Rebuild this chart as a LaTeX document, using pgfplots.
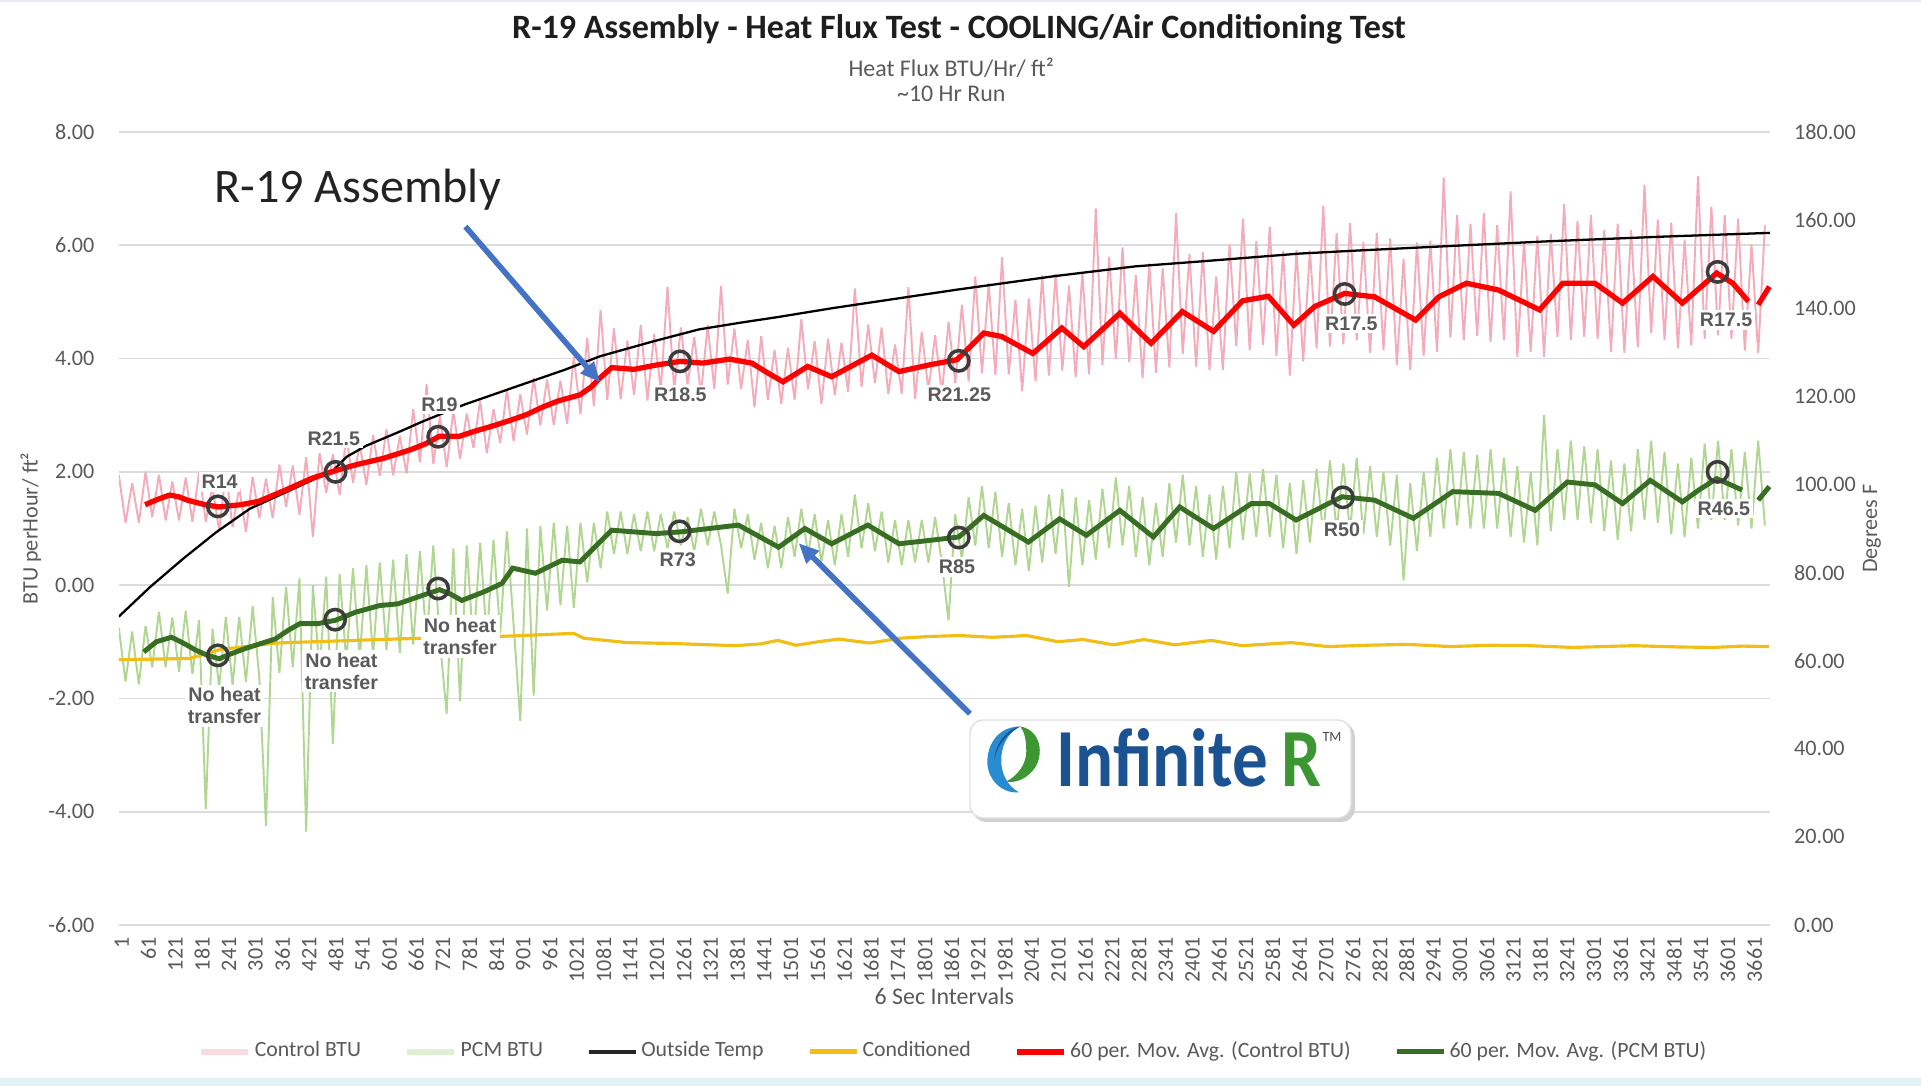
\documentclass[border=0pt]{standalone}
\usepackage{pgfplots}
\pgfplotsset{compat=1.18}
\usepackage{pgfplotstable}
\usepackage{fontspec}
\setmainfont{Carlito}
\newfontfamily\arialf{Liberation Sans}
\usetikzlibrary{arrows.meta,shadows}

\definecolor{gridc}{RGB}{220,220,220}
\definecolor{tickc}{RGB}{89,89,89}
\definecolor{pinkc}{RGB}{244,172,186}
\definecolor{lgreen}{RGB}{176,214,146}
\definecolor{mared}{RGB}{255,0,0}
\definecolor{magreen}{RGB}{56,110,35}
\definecolor{condc}{RGB}{240,190,20}
\definecolor{arrowc}{RGB}{68,114,196}
\definecolor{circc}{RGB}{60,60,60}
\definecolor{lblc}{RGB}{90,90,90}
\definecolor{logoblue}{RGB}{27,82,145}
\definecolor{logolight}{RGB}{40,140,210}
\definecolor{logogreen}{RGB}{60,150,50}
\definecolor{bottombar}{RGB}{225,241,244}
\definecolor{topbar}{RGB}{236,232,244}
\definecolor{titlec}{RGB}{30,30,30}
\definecolor{bigtxt}{RGB}{35,35,35}

% raw 6-second readings (sampled), Control BTU (c) and PCM BTU (p)
\pgfplotstableread{
i c p
1 1.95 -0.75
16 1.10 -1.70
31 1.80 -0.82
46 1.10 -1.75
61 2.00 -0.72
76 1.20 -1.45
91 1.95 -0.47
106 1.14 -1.45
121 1.83 -0.57
136 1.14 -1.53
151 1.90 -0.45
166 1.12 -1.57
181 1.99 -0.62
196 1.12 -3.95
211 1.74 -0.77
226 0.96 -1.80
241 1.99 -0.56
256 1.03 -1.76
271 1.72 -0.56
286 0.94 -1.71
301 1.91 -0.37
316 1.18 -1.63
331 1.88 -4.25
346 1.18 -0.21
361 2.13 -1.55
376 1.38 -0.03
391 2.11 -1.45
406 1.24 0.12
421 2.26 -4.35
436 0.85 0.00
451 2.33 -1.50
466 1.63 0.15
481 2.31 -2.80
496 1.59 0.20
511 2.63 -1.35
526 1.81 0.30
541 2.49 -1.30
556 1.77 0.35
571 2.65 -1.25
586 1.93 0.40
601 2.75 -1.15
616 1.94 0.45
631 2.63 -1.20
646 1.97 0.55
661 3.11 -1.05
676 2.17 0.60
691 3.55 -1.00
706 2.14 0.70
721 2.98 -1.00
736 2.08 -2.27
751 3.08 0.65
766 2.23 -2.05
781 3.03 0.70
796 2.42 -1.10
811 3.26 0.75
826 2.33 -0.95
841 3.11 0.80
856 2.51 -0.85
871 3.45 0.95
886 2.54 -0.70
901 3.37 -2.40
916 2.66 1.00
931 3.66 -1.95
946 2.82 1.05
961 3.63 -0.45
976 2.83 1.10
991 3.61 -0.35
1006 2.85 1.05
1021 4.03 -0.40
1036 3.02 1.10
1051 4.36 0.05
1066 3.16 1.10
1081 4.86 0.30
1096 3.27 1.30
1111 4.54 0.55
1126 3.28 1.30
1141 4.32 0.55
1156 3.36 1.25
1171 4.59 0.60
1186 3.26 1.30
1201 4.43 0.60
1216 3.45 1.25
1231 5.27 0.65
1246 3.44 1.30
1261 4.55 0.70
1276 3.54 1.20
1291 4.38 0.60
1306 3.37 1.35
1321 4.59 0.70
1336 3.46 1.30
1351 5.28 0.70
1366 3.54 -0.15
1381 4.53 1.35
1396 3.46 0.65
1411 4.33 1.25
1426 3.14 0.45
1441 4.40 1.10
1456 3.27 0.30
1471 4.15 1.05
1486 3.20 0.30
1501 4.19 1.20
1516 3.27 0.50
1531 4.70 1.35
1546 3.46 0.55
1561 4.31 1.25
1576 3.20 0.40
1591 4.35 1.15
1606 3.35 0.35
1621 4.28 1.25
1636 3.41 0.50
1651 5.24 1.60
1666 3.50 0.65
1681 4.60 1.45
1696 3.57 0.60
1711 4.55 1.30
1726 3.37 0.40
1741 4.25 1.15
1756 3.38 0.35
1771 5.26 1.15
1786 3.29 0.40
1801 4.47 1.15
1816 3.44 0.40
1831 4.41 1.20
1846 3.38 0.40
1861 4.65 -0.62
1876 3.57 1.25
1891 4.95 0.45
1906 3.60 1.55
1921 5.45 0.70
1936 3.74 1.75
1951 5.33 0.65
1966 3.71 1.65
1981 5.79 0.50
1996 3.72 1.45
2011 5.04 0.35
2026 3.42 1.35
2041 5.06 0.25
2056 3.60 1.40
2071 5.47 0.40
2086 3.70 1.60
2101 5.50 0.55
2116 3.79 1.70
2131 5.29 -0.03
2146 3.67 1.55
2161 5.52 0.35
2176 3.72 1.50
2191 6.65 0.45
2206 3.88 1.70
2221 5.80 0.65
2236 3.99 1.90
2251 5.96 0.70
2266 3.94 1.75
2281 5.47 0.50
2296 3.65 1.55
2311 5.68 0.35
2326 3.75 1.45
2341 5.60 0.50
2356 3.84 1.80
2371 6.57 0.75
2386 4.08 1.95
2401 5.85 0.70
2416 3.86 1.75
2431 5.88 0.50
2446 3.80 1.60
2461 5.45 0.45
2476 3.80 1.75
2491 6.02 0.65
2506 4.22 2.00
2521 6.47 0.80
2536 4.15 1.97
2551 6.07 0.85
2566 4.24 2.05
2581 6.33 0.85
2596 4.05 1.95
2611 5.90 0.65
2626 3.70 1.80
2641 5.92 0.55
2656 3.95 1.85
2671 5.91 0.75
2686 4.18 2.05
2701 6.70 0.90
2716 4.21 2.20
2731 6.22 0.95
2746 4.25 2.15
2761 6.39 0.95
2776 4.32 2.25
2791 6.06 0.90
2806 4.10 2.10
2821 6.22 0.85
2836 4.15 2.00
2851 6.12 0.70
2866 3.89 1.95
2881 5.76 0.08
2896 3.80 1.80
2911 6.05 0.60
2926 4.05 2.00
2941 6.08 0.85
2956 4.12 2.25
2971 7.20 1.00
2986 4.37 2.40
3001 6.53 1.05
3016 4.32 2.35
3031 6.38 1.00
3046 4.40 2.30
3061 6.57 1.00
3076 4.29 2.40
3091 6.36 1.00
3106 4.32 2.25
3121 6.95 0.85
3136 4.03 2.10
3151 6.07 0.75
3166 4.12 2.00
3181 6.17 0.70
3196 4.03 3.00
3211 6.20 0.95
3226 4.38 2.40
3241 6.73 1.15
3256 4.33 2.55
3271 6.43 1.15
3286 4.38 2.45
3301 6.53 1.10
3316 4.35 2.40
3331 6.27 0.95
3346 4.12 2.20
3361 6.38 0.80
3376 4.10 2.15
3391 6.27 0.95
3406 4.20 2.40
3421 7.07 1.15
3436 4.45 2.55
3451 6.45 1.10
3466 4.33 2.35
3481 6.40 0.90
3496 4.18 2.15
3511 6.10 0.85
3526 4.23 2.25
3541 7.22 1.00
3556 4.35 2.50
3571 6.68 1.15
3586 4.41 2.55
3601 6.53 1.15
3616 4.35 2.40
3631 6.47 1.05
3646 4.14 2.35
3661 6.01 1.00
3676 4.10 2.55
3691 6.35 1.05
}\noise

\pgfplotstableread{
i t
1 70.0
71 76.7
146 83.2
220 89.2
295 94.5
390 98.9
482 103.2
512 106.3
556 108.8
631 112.0
680 114.2
775 118.1
900 122.5
1000 126.0
1080 129.1
1200 132.5
1302 135.2
1400 136.8
1479 138.0
1600 140.0
1879 144.2
2100 147.3
2280 149.5
2424 150.6
2648 152.4
2760 153.0
3042 154.4
3208 155.2
3450 156.2
3702 157.1
}\outside

\pgfplotstableread{
i t
1 60.2
160 60.5
227 62.5
353 64.0
500 64.5
650 65.0
884 65.6
1021 66.2
1043 65.1
1140 64.1
1242 63.9
1382 63.4
1440 63.8
1478 64.6
1519 63.5
1570 64.3
1615 64.9
1684 64.0
1753 65.1
1820 65.5
1886 65.7
1960 65.3
2036 65.7
2106 64.3
2162 64.8
2231 63.6
2299 64.8
2368 63.6
2450 64.6
2519 63.4
2629 64.1
2711 63.2
2800 63.5
2890 63.7
2986 63.2
3080 63.5
3164 63.4
3260 63.0
3397 63.4
3500 63.1
3576 63.0
3640 63.3
3700 63.2
}\cond

\pgfplotstableread{
i v
60 1.42
90 1.52
115 1.59
135 1.56
155 1.50
194 1.42
225 1.38
275 1.42
315 1.48
375 1.68
435 1.89
490 2.03
535 2.13
595 2.24
655 2.39
690 2.50
720 2.63
765 2.63
800 2.72
835 2.80
875 2.90
915 3.01
950 3.14
985 3.25
1035 3.36
1060 3.50
1080 3.66
1106 3.84
1156 3.81
1209 3.89
1260 3.95
1310 3.92
1370 3.99
1420 3.92
1455 3.75
1490 3.59
1545 3.86
1599 3.68
1689 4.06
1750 3.77
1819 3.89
1880 3.98
1940 4.45
1980 4.39
2050 4.09
2115 4.54
2164 4.21
2245 4.80
2315 4.27
2385 4.83
2455 4.48
2520 5.02
2578 5.10
2635 4.59
2682 4.92
2749 5.15
2816 5.09
2908 4.68
2960 5.09
3022 5.33
3094 5.21
3186 4.86
3238 5.33
3310 5.33
3372 4.98
3440 5.45
3506 4.98
3583 5.51
3619 5.33
3654 5.01
3665 nan
3676 4.95
3701 5.27
}\mactrl

\pgfplotstableread{
i v
57 -1.18
85 -1.00
119 -0.92
145 -1.02
174 -1.15
200 -1.24
226 -1.30
250 -1.22
284 -1.12
352 -0.95
380 -0.80
407 -0.68
447 -0.68
487 -0.62
531 -0.48
586 -0.36
627 -0.33
682 -0.18
720 -0.08
745 -0.16
770 -0.27
819 -0.12
860 0.03
884 0.30
935 0.21
995 0.44
1035 0.41
1106 0.97
1156 0.94
1205 0.91
1260 0.94
1390 1.06
1480 0.67
1539 1.00
1599 0.73
1680 1.06
1750 0.73
1819 0.79
1884 0.85
1940 1.23
2040 0.76
2110 1.17
2170 0.88
2245 1.32
2320 0.85
2379 1.38
2455 1.00
2540 1.44
2580 1.44
2640 1.15
2743 1.56
2816 1.50
2903 1.18
2991 1.65
3094 1.62
3176 1.32
3248 1.82
3310 1.77
3372 1.44
3434 1.85
3506 1.47
3543 1.68
3583 1.88
3640 1.68
3658 nan
3676 1.50
3701 1.74
}\mapcm

\pgfplotsset{
  base/.style={
    scale only axis, width=16.51cm, height=7.93cm,
    at={(0,0)}, anchor=south west,
    xmin=1, xmax=3702,
    axis line style={draw=none},
    tick style={draw=none},
    major tick length=0pt,
    ticklabel style={font=\fontsize{6.3}{7}\selectfont, color=tickc},
    /pgf/number format/assume math mode=true,
  },
}
\tikzset{
  lbl/.style={font=\arialf\bfseries\fontsize{5.6}{6.3}\selectfont, text=lblc, fill=white, inner sep=0.8pt, align=center},
}

\begin{document}
\begin{tikzpicture}
\path[use as bounding box] (-1.188,-1.61) rectangle (18.022,9.25);
\fill[bottombar] (-1.188,-1.61) rectangle (18.022,-1.53);
\fill[topbar] (-1.188,9.23) rectangle (18.022,9.25);

% ---------- left axis: raw readings ----------
\begin{axis}[base,
  ymin=-6, ymax=8, ytick={-6,-4,...,8},
  ymajorgrids, grid style={gridc, line width=0.5pt},
  yticklabel style={/pgf/number format/fixed, /pgf/number format/fixed zerofill, /pgf/number format/precision=2, xshift=-0.12cm},
  xtick={1,61,...,3661},
  scaled x ticks=false,
  xticklabel style={rotate=90, anchor=east, /pgf/number format/1000 sep={}, yshift=-0.03cm},
  xlabel={6 Sec Intervals},
  every axis x label/.style={at={(axis description cs:0.5,-0.0895)}, anchor=center, font=\fontsize{6.8}{8}\selectfont, color=tickc},
  ylabel={BTU perHour/ ft²},
  every axis y label/.style={at={(axis description cs:-0.0533,0.5)}, rotate=90, anchor=center, font=\fontsize{6.3}{7}\selectfont, color=tickc},
]
\addplot[pinkc, line width=0.55pt, line join=bevel] table[x=i, y=c] {\noise};
\addplot[lgreen, line width=0.55pt, line join=bevel] table[x=i, y=p] {\noise};
\end{axis}

% ---------- right axis: temperatures ----------
\begin{axis}[base,
  ymin=0, ymax=180, ytick={0,20,...,180},
  axis y line*=right, axis x line=none,
  yticklabel style={/pgf/number format/fixed, /pgf/number format/fixed zerofill, /pgf/number format/precision=2, xshift=0.12cm},
  ylabel={Degrees F},
  every axis y label/.style={at={(axis description cs:1.0618,0.5)}, rotate=90, anchor=center, font=\fontsize{6.3}{7}\selectfont, color=tickc},
]
\addplot[black, line width=0.65pt] table[x=i, y=t] {\outside};
\addplot[condc, line width=0.9pt] table[x=i, y=t] {\cond};
\end{axis}

% ---------- moving averages, annotations, legend ----------
\begin{axis}[base,
  ymin=-6, ymax=8, hide axis, clip=false,
  unbounded coords=jump,
  legend style={at={(0.506,-0.160)}, anchor=center, draw=none, fill=none,
    font=\fontsize{6.2}{7}\selectfont, text=tickc,
    nodes={inner xsep=1pt},
    /tikz/every odd column/.append style={column sep=0cm},
    /tikz/every even column/.append style={column sep=0.4cm}},
  legend columns=6,
  legend image code/.code={\draw[#1] (0cm,0cm) -- (0.47cm,0cm);},
  legend cell align=left,
]
\addlegendimage{pinkc!45, line width=1.6pt}
\addlegendentry{Control BTU}
\addlegendimage{lgreen!40, line width=1.6pt}
\addlegendentry{PCM BTU}
\addlegendimage{black!85, line width=1.2pt}
\addlegendentry{Outside Temp}
\addlegendimage{condc, line width=1.4pt}
\addlegendentry{Conditioned}
\addplot[mared, line width=1.5pt] table[x=i, y=v] {\mactrl};
\addlegendentry{60 per. Mov. Avg. (Control BTU)}
\addplot[magreen, line width=1.4pt] table[x=i, y=v] {\mapcm};
\addlegendentry{60 per. Mov. Avg. (PCM BTU)}

\addplot[forget plot, only marks, mark=o, mark size=2.9pt, mark options={circc, line width=1pt}] coordinates {
(223,1.39) (487,2.00) (717,2.62) (1259,3.95) (1884,3.96) (2749,5.14) (3585,5.53)
(1258,0.95) (1884,0.84) (2745,1.55) (3585,2.00)
(223,-1.24) (486,-0.61) (717,-0.06)
};

\node[lbl] at (axis cs:227,1.82) {R14};
\node[lbl] at (axis cs:483,2.59) {R21.5};
\node[lbl] at (axis cs:720,3.19) {R19};
\node[lbl] at (axis cs:1260,3.36) {R18.5};
\node[lbl] at (axis cs:1885,3.36) {R21.25};
\node[lbl] at (axis cs:2764,4.62) {R17.5};
\node[lbl] at (axis cs:3604,4.68) {R17.5};
\node[lbl] at (axis cs:1254,0.44) {R73};
\node[lbl] at (axis cs:1880,0.32) {R85};
\node[lbl] at (axis cs:2743,0.97) {R50};
\node[lbl] at (axis cs:3599,1.35) {R46.5};
\node[lbl] at (axis cs:238,-2.13) {No heat\\transfer};
\node[lbl] at (axis cs:500,-1.52) {No heat\\transfer};
\node[lbl] at (axis cs:766,-0.905) {No heat\\transfer};

\node[font=\fontsize{13.7}{15}\selectfont, text=bigtxt] at (axis cs:536,6.99) {R-19 Assembly};
\draw[arrowc, line width=1.6pt, -{Triangle[length=0.2cm,width=0.17cm]}] (axis cs:778,6.33) -- (axis cs:1080,3.58);
\draw[arrowc, line width=1.6pt, -{Triangle[length=0.2cm,width=0.17cm]}] (axis cs:1909,-2.27) -- (axis cs:1525,0.74);
\end{axis}

% ---------- logo box ----------
\fill[black!18, rounded corners=0.13cm] (8.54,1.03) rectangle (12.36,2.02);
\filldraw[draw=black!12, fill=white, rounded corners=0.13cm] (8.512,1.07) rectangle (12.322,2.05);
\begin{scope}[shift={(8.955,1.655)}]
\fill[logolight] (0.06,0.33) .. controls (-0.22,0.33) and (-0.30,0.05) .. (-0.26,-0.10)
  .. controls (-0.22,-0.26) and (-0.08,-0.34) .. (0.05,-0.33)
  .. controls (-0.08,-0.26) and (-0.14,-0.12) .. (-0.13,0.02)
  .. controls (-0.12,0.18) and (-0.04,0.28) .. (0.06,0.33) -- cycle;
\fill[logoblue] (0.06,0.33) .. controls (-0.10,0.30) and (-0.20,0.12) .. (-0.20,-0.02)
  .. controls (-0.18,0.15) and (-0.06,0.27) .. (0.06,0.33) -- cycle;
\fill[logogreen] (0.06,0.33) .. controls (0.24,0.30) and (0.30,0.10) .. (0.22,-0.06)
  .. controls (0.14,-0.20) and (0.00,-0.24) .. (-0.08,-0.22)
  .. controls (0.04,-0.16) and (0.12,-0.04) .. (0.12,0.08)
  .. controls (0.12,0.20) and (0.10,0.28) .. (0.06,0.33) -- cycle;
\end{scope}
\node[anchor=base west, inner sep=0pt, text=logoblue, font=\bfseries\fontsize{23.5}{24}\selectfont] at (9.37,1.385) {\scalebox{0.86}[1]{Infinite}};
\node[anchor=base west, inner sep=0pt, text=logogreen, font=\bfseries\fontsize{23.5}{24}\selectfont] at (11.62,1.385) {\scalebox{0.86}[1]{R}};
\node[anchor=base west, inner sep=0pt, text=black!70, font=\fontsize{4}{4}\selectfont] at (12.03,1.83) {TM};

% ---------- titles ----------
\node[font=\bfseries\fontsize{9.7}{11}\selectfont, text=titlec] at (8.402,8.956) {R-19 Assembly - Heat Flux Test - COOLING/Air Conditioning Test};
\node[font=\fontsize{6.8}{8}\selectfont, text=tickc] at (8.325,8.576) {Heat Flux BTU/Hr/ ft²};
\node[font=\fontsize{6.8}{8}\selectfont, text=tickc] at (8.325,8.307) {\textasciitilde10 Hr Run};
\end{tikzpicture}
\end{document}
